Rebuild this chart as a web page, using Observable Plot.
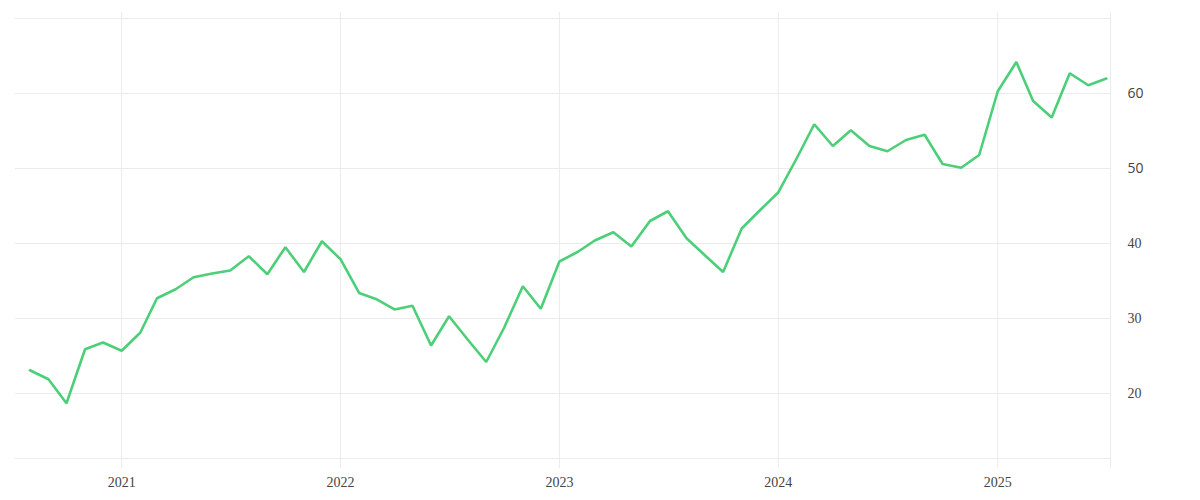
<!DOCTYPE html>
<html><head><meta charset="utf-8">
<script src="https://cdn.jsdelivr.net/npm/d3@7"></script>
<script src="https://cdn.jsdelivr.net/npm/@observablehq/plot@0.6"></script>
<style>body{margin:0;background:#fff}</style>
</head><body><div id="chart"></div>
<script>
const months = ["2020-08","2020-09","2020-10","2020-11","2020-12",
"2021-01","2021-02","2021-03","2021-04","2021-05","2021-06","2021-07","2021-08","2021-09","2021-10","2021-11","2021-12",
"2022-01","2022-02","2022-03","2022-04","2022-05","2022-06","2022-07","2022-08","2022-09","2022-10","2022-11","2022-12",
"2023-01","2023-02","2023-03","2023-04","2023-05","2023-06","2023-07","2023-08","2023-09","2023-10","2023-11","2023-12",
"2024-01","2024-02","2024-03","2024-04","2024-05","2024-06","2024-07","2024-08","2024-09","2024-10","2024-11","2024-12",
"2025-01","2025-02","2025-03","2025-04","2025-05","2025-06","2025-07"];
const values = [23.1,21.9,18.7,25.9,26.8,
25.7,28.1,32.7,33.9,35.5,36.0,36.4,38.3,35.9,39.5,36.2,40.3,
37.9,33.4,32.6,31.2,31.7,26.4,30.3,27.2,24.2,28.8,34.3,31.3,
37.6,38.9,40.4,41.5,39.6,43.0,44.3,40.7,38.4,36.2,42.0,44.4,
46.8,51.4,55.9,53.0,55.1,53.0,52.3,53.8,54.5,50.6,50.1,51.8,
60.3,64.2,59.0,56.8,62.7,61.1,62.0];
const yearTicks = ["2021-01-01","2022-01-01","2023-01-01","2024-01-01","2025-01-01"];
const gridYTicks = [20,30,40,50,60,70];
const serifYTicks = [20,30,40];
const sansYTicks = [50,60];
const xDomain = ["2020-07-08","2025-07-08"];
const yDomain = [11.33, 70];

const parseDay = d3.utcParse("%Y-%m-%d");
const parseMonth = d3.utcParse("%Y-%m");
const data = months.map((m, i) => ({date: parseMonth(m), value: values[i]}));
const years = yearTicks.map(parseDay);
const xDom = xDomain.map(parseDay);

const grid = "#ebebeb";
const chart = Plot.plot({
  width: 1200,
  height: 500,
  marginLeft: 15,
  marginRight: 90,
  marginTop: 18,
  marginBottom: 42,
  x: {type: "utc", domain: xDom},
  y: {domain: yDomain},
  marks: [
    Plot.gridY(gridYTicks, {stroke: grid, strokeOpacity: 1}),
    Plot.ruleY([yDomain[0]], {stroke: grid, strokeOpacity: 1}),
    Plot.gridX(years, {stroke: grid, strokeOpacity: 1, insetTop: -6, insetBottom: -10}),
    Plot.ruleX([xDom[1]], {stroke: grid, strokeOpacity: 1, insetTop: -6, insetBottom: -10}),
    Plot.line(data, {x: "date", y: "value", stroke: "#4ccf78", strokeWidth: 2.6, strokeLinejoin: "miter"}),
    Plot.axisX(years, {tickSize: 0, tickPadding: 19, tickFormat: d3.utcFormat("%Y"), fontSize: 14, fontFamily: "Liberation Serif", fill: "#444", label: null}),
    Plot.axisY(serifYTicks, {anchor: "right", tickSize: 0, tickPadding: 17, fontSize: 14, fontFamily: "Liberation Serif", fill: "#444", label: null}),
    Plot.axisY(sansYTicks, {anchor: "right", tickSize: 0, tickPadding: 17, fontSize: 14, fontFamily: "Open Sans", fill: "#444", label: null})
  ]
});
document.getElementById("chart").appendChild(chart);
</script>
</body></html>
